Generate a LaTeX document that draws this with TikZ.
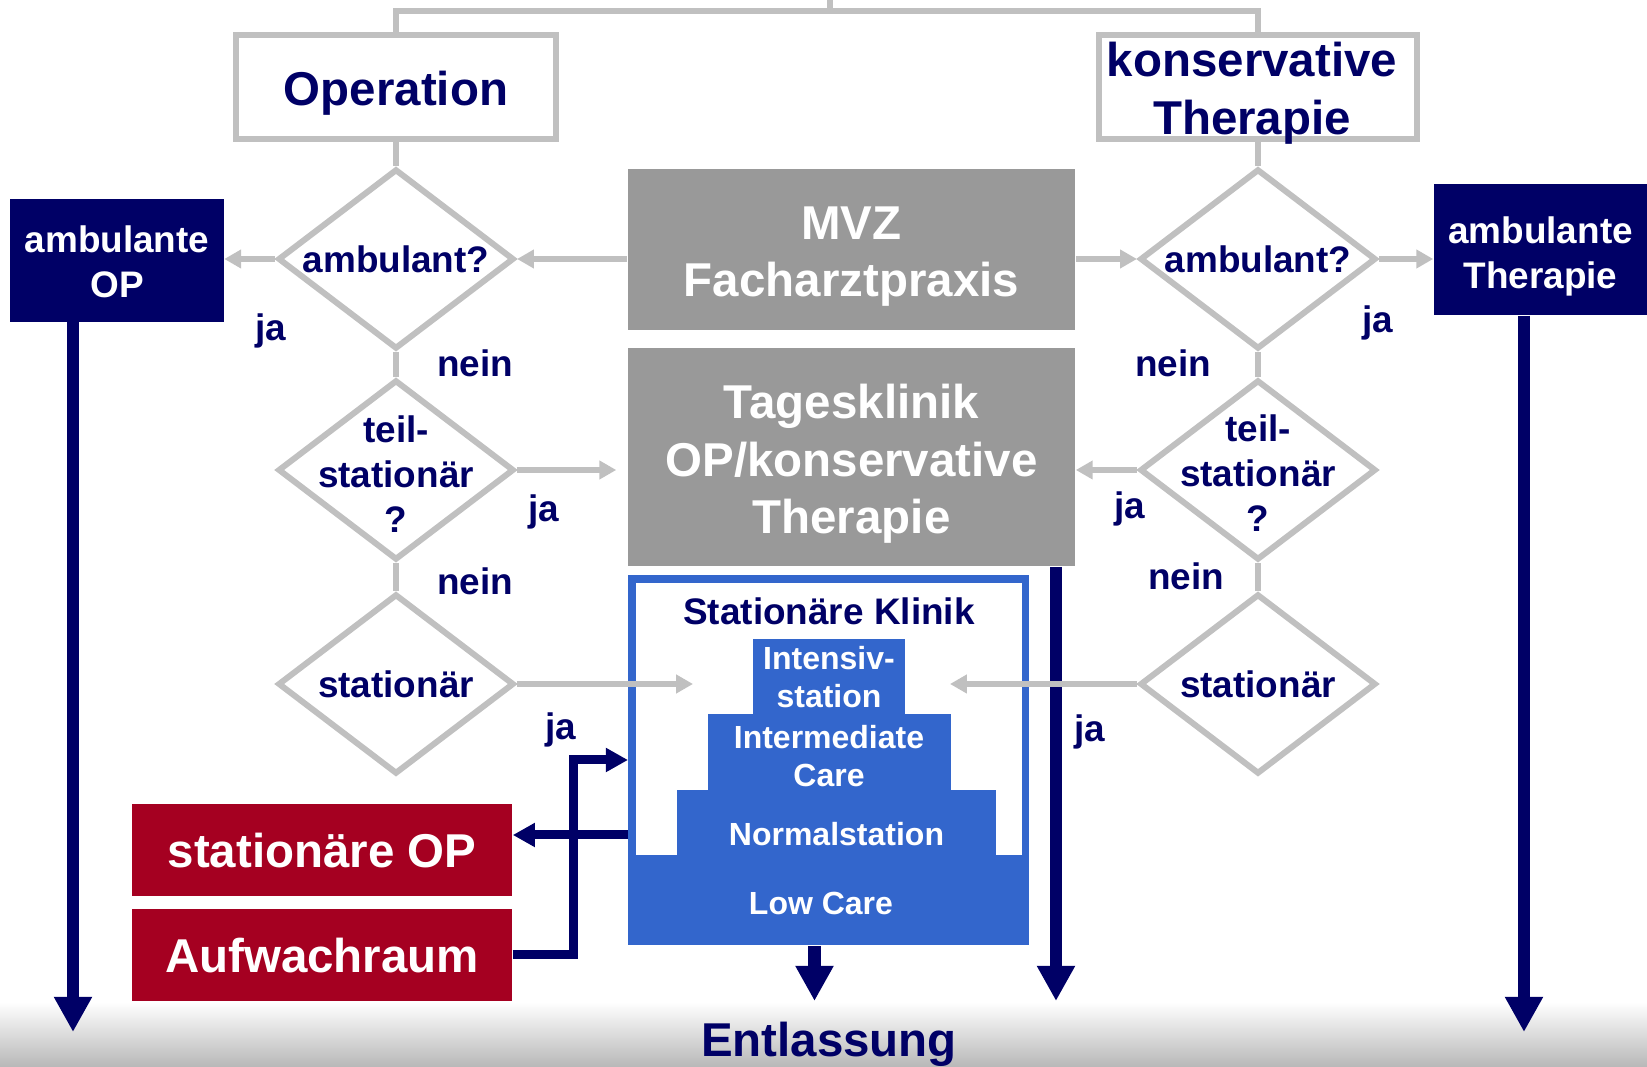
\documentclass[tikz,border=0pt]{standalone}
\usepackage{fontspec}
\setmainfont{Liberation Sans}
\usetikzlibrary{shapes.geometric,arrows.meta}
\definecolor{navy}{HTML}{000066}
\definecolor{lgray}{HTML}{C0C0C0}
\definecolor{boxgray}{HTML}{999999}
\definecolor{opred}{HTML}{A50021}
\definecolor{kblue}{HTML}{3366CC}
\begin{document}
\begin{tikzpicture}[x=0.01cm,y=-0.01cm,
	bigtext/.style={font=\fontsize{13.5}{16.4}\selectfont\bfseries},
	midtext/.style={font=\fontsize{10.5}{12.8}\selectfont\bfseries},
	smalltext/.style={font=\fontsize{9.1}{10.8}\selectfont\bfseries},
	gline/.style={draw=lgray,line width=1.7pt},
	garrow/.style={gline,-{Triangle[length=4.8pt,width=5.1pt]}},
	nbig/.style={draw=navy,line width=3.6pt,-{Triangle[length=10pt,width=10.2pt]}},
	nsmall/.style={draw=navy,line width=2.56pt,-{Triangle[length=6.3pt,width=6.5pt]}},
	frame/.style={rectangle,draw=lgray,line width=1.7pt,fill=white,inner sep=0pt},
	graybox/.style={rectangle,fill=boxgray,inner sep=0pt},
	navybox/.style={rectangle,fill=navy,inner sep=0pt},
	redbox/.style={rectangle,fill=opred,inner sep=0pt},
	dia/.style={diamond,draw=lgray,line width=1.7pt,fill=white,inner sep=0pt,minimum width=2.36cm,minimum height=1.80cm},
	dtext/.style={midtext,text=navy,align=center},
	yesno/.style={midtext,text=navy,anchor=base}]
\useasboundingbox (0,0) rectangle (1647,1067);
\shade[top color=white,bottom color=black!28] (0,1002) rectangle (1647,1067);

% top boxes
	\node[frame,minimum width=3.19cm,minimum height=1.03cm] (op) at (396,87) {};
	\node[bigtext,text=navy,anchor=base] at (396,106) {Operation};
	\node[frame,minimum width=3.18cm,minimum height=1.03cm] (kt) at (1258,87) {};
	\node[bigtext,text=navy,align=center] at (1252,93) {konservative\\Therapie};

% middle column
	\node[graybox,minimum width=4.47cm,minimum height=1.61cm] (mvz) at (851.5,249.5) {};
	\node[bigtext,text=white,align=center] at (851.5,256.5) {MVZ\\Facharztpraxis};
	\node[graybox,minimum width=4.47cm,minimum height=2.18cm] (tk) at (851.5,457) {};
	\node[bigtext,text=white,align=center] at (851.5,464) {Tagesklinik\\OP/konservative\\Therapie};

% stationaere Klinik
	\node[rectangle,fill=kblue,inner sep=0pt,minimum width=4.01cm,minimum height=3.70cm] (sk) at (828.5,760) {};
	\fill[white] (636,583) rectangle (1021.7,855);
	\fill[kblue] (753,639) rectangle (905,714);
	\fill[kblue] (707.7,714) rectangle (950.7,790);
	\fill[kblue] (677,790) rectangle (996,855);
	\node[text=navy,font=\fontsize{10.5}{12.6}\selectfont\bfseries,anchor=base] (skt) at (829,625) {Stationäre Klinik};
	\node[smalltext,text=white,align=center] (ints) at (829,677) {Intensiv-\\station};
	\node[smalltext,text=white,align=center] (imc) at (829,756) {Intermediate\\Care};
	\node[smalltext,text=white,anchor=base] (nst) at (836.5,846) {Normalstation};
	\node[smalltext,text=white,anchor=base] (lc) at (821,915) {Low Care};

% left side
	\node[navybox,minimum width=2.13cm,minimum height=1.22cm] (aop) at (117,260.5) {};
	\node[midtext,text=white,align=center] at (117,262) {ambulante\\OP};
	\node[dia] (la) at (396,259) {};
	\node[dtext] at (la) {ambulant?};
	\node[dia] (lt) at (396,470) {};
	\node[dtext] at (396,474) {teil-\\stationär\\?};
	\node[dia] (ls) at (396,684) {};
	\node[dtext] at (ls) {stationär};
	\node[redbox,minimum width=3.80cm,minimum height=0.925cm] (sop) at (322,850) {};
	\node[bigtext,text=white,anchor=base] at (322,868) {stationäre OP};
	\node[redbox,minimum width=3.80cm,minimum height=0.915cm] (auf) at (322,955) {};
	\node[bigtext,text=white,anchor=base] at (322,973) {Aufwachraum};

% right side
	\node[navybox,minimum width=2.13cm,minimum height=1.31cm] (at) at (1540.5,249.5) {};
	\node[midtext,text=white,align=center] at (1540.5,256) {ambulante\\Therapie};
	\node[dia] (ra) at (1258,259) {};
	\node[dtext] at (ra) {ambulant?};
	\node[dia] (rt) at (1258,470) {};
	\node[dtext] at (1258,473) {teil-\\stationär\\?};
	\node[dia] (rs) at (1258,684) {};
	\node[dtext] at (rs) {stationär};

% Entlassung
	\node[bigtext,text=navy,anchor=base] (ent) at (829,1057) {Entlassung};

% ja / nein
	\node[yesno] at (271,341) {ja};
	\node[yesno] at (475,377) {nein};
	\node[yesno] at (544,522) {ja};
	\node[yesno] at (475,595) {nein};
	\node[yesno] at (561,740) {ja};
	\node[yesno] at (1378,333) {ja};
	\node[yesno] at (1173,377) {nein};
	\node[yesno] at (1130,519) {ja};
	\node[yesno] at (1186,590) {nein};
	\node[yesno] at (1090,742) {ja};

%Links
	% navy
	\coordinate (lend) at (73,1032);
	\coordinate (rend) at (1524,1032);
	\coordinate (tend) at (1056,1001);
	\coordinate (kend) at (814.5,1001);
	\coordinate (kout) at (628,835);
	\coordinate (kin) at (628,760);
	\draw[nbig] (lend |- aop.south) -- (lend);
	\draw[nbig] (rend |- at.south) -- (rend);
	\draw[nbig] (tend |- tk.south) -- (tend);
	\draw[nbig] (kend |- sk.south) -- (kend);
	\draw[nsmall] (kout) -- (kout -| sop.east);
	\draw[nsmall] (auf.east) -- ++(60.5,0) |- (kin);

	% gray
	\coordinate (src) at (830,0);
	\coordinate (lsend) at (693,684);
	\coordinate (rsend) at (950,684);
	\draw[gline] (src) -- ++(0,11);
	\draw[gline] (op.north) -- ++(0,-21.5) -| (kt.north);
	\draw[gline] (op.south) -- (la.north);
	\draw[gline] (kt.south) -- (ra.north);
	\draw[gline] (la.south) -- (lt.north);
	\draw[gline] (lt.south) -- (ls.north);
	\draw[gline] (ra.south) -- (rt.north);
	\draw[gline] (rt.south) -- (rs.north);
	\draw[garrow] (la.west) -- (la.west -| aop.east);
	\draw[garrow] (la.east -| mvz.west) -- (la.east);
	\draw[garrow,shorten >=3.1pt] (lt.east) -- (lt.east -| tk.west);
	\draw[garrow] (ls.east) -- (lsend);
	\draw[garrow] (ra.west -| mvz.east) -- (ra.west);
	\draw[garrow] (ra.east) -- (ra.east -| at.west);
	\draw[garrow] (rt.west) -- (rt.west -| tk.east);
	\draw[garrow] (rs.west) -- (rsend);
\end{tikzpicture}
\end{document}
